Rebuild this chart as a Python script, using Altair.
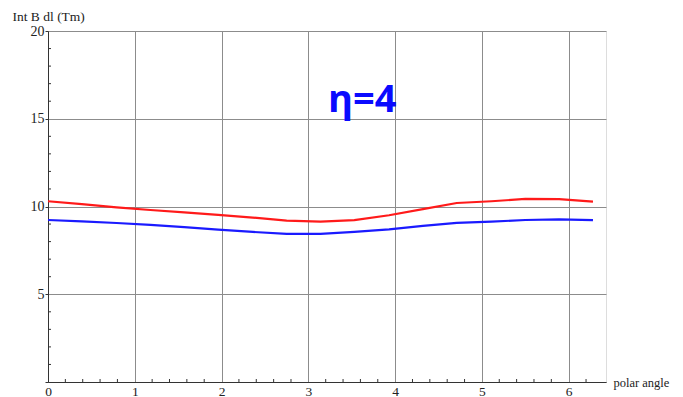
import altair as alt
import pandas as pd

angles = [0.0, 0.39, 0.79, 1.18, 1.57, 1.96, 2.36, 2.75, 3.14, 3.53, 3.93, 4.32, 4.71, 5.11, 5.50, 5.89, 6.28]
red_vals = [10.3, 10.13, 9.95, 9.8, 9.66, 9.52, 9.37, 9.2, 9.14, 9.22, 9.5, 9.85, 10.2, 10.3, 10.43, 10.42, 10.28]
blue_vals = [9.23, 9.15, 9.06, 8.95, 8.83, 8.68, 8.55, 8.44, 8.44, 8.55, 8.7, 8.9, 9.07, 9.14, 9.23, 9.27, 9.22]
series_names = ["red", "blue"]
series_colors = ["#ff1a1a", "#1a1aff"]

x_major = [0, 1, 2, 3, 4, 5, 6]
x_minor = [round(i * 0.2, 1) for i in range(1, 32) if i % 5 != 0]
y_major = [0, 5, 10, 15, 20]
y_minor = [v for v in range(1, 20) if v % 5 != 0]

annot_label = ["η=4"]
annot_x = [3.62]
annot_y = [16.0]

rows = []
for a, r, b in zip(angles, red_vals, blue_vals):
    rows.append({"angle": a, "value": r, "series": "red"})
    rows.append({"angle": a, "value": b, "series": "blue"})
df = pd.DataFrame(rows)

serif = "Liberation Serif"
ink = "#333"

x_scale = alt.Scale(domain=[0, 6.43], nice=False, zero=False)
y_scale = alt.Scale(domain=[0, 20], nice=False)

x_axis = alt.Axis(
    values=x_major,
    format="d",
    labelOverlap=False,
    labelFlush=False,
    grid=True,
    gridColor="#8c8c8c",
    gridWidth=1,
    tickSize=0,
    domainColor=ink,
    labelFont=serif,
    labelFontSize=13.5,
    labelColor="#222",
    labelPadding=2,
    title="polar angle",
    titleFont=serif,
    titleFontSize=12.5,
    titleFontWeight="normal",
    titleColor="#222",
    titleAnchor="start",
    titleAlign="left",
    titleBaseline="middle",
    titleX=565,
    titleY=0,
)

y_axis = alt.Axis(
    values=y_major,
    labelExpr="datum.value > 0 ? format(datum.value, 'd') : ''",
    labelOverlap=False,
    labelFlush=False,
    grid=True,
    gridColor="#8c8c8c",
    gridWidth=1,
    tickSize=3,
    tickColor=ink,
    domainColor=ink,
    labelFont=serif,
    labelFontSize=14,
    labelColor="#222",
    labelPadding=1,
    title="Int B dl (Tm)",
    titleFont=serif,
    titleFontSize=13.5,
    titleFontWeight="normal",
    titleColor="#222",
    titleAngle=0,
    titleAlign="left",
    titleBaseline="alphabetic",
    titleX=-36,
    titleY=-11,
)

lines = alt.Chart(df).mark_line(strokeWidth=2.2).encode(
    x=alt.X("angle:Q", scale=x_scale, axis=x_axis),
    y=alt.Y("value:Q", scale=y_scale, axis=y_axis),
    color=alt.Color("series:N", scale=alt.Scale(domain=series_names, range=series_colors), legend=None),
    detail="series:N",
)

xminor_df = pd.DataFrame({"t": x_minor, "base": [0] * len(x_minor)})
xminor = alt.Chart(xminor_df).mark_tick(
    orient="vertical", size=3, thickness=1, color=ink, yOffset=-1.5, opacity=1
).encode(x=alt.X("t:Q", scale=x_scale), y=alt.Y("base:Q", scale=y_scale))

yminor_df = pd.DataFrame({"t": y_minor, "base": [0] * len(y_minor)})
yminor = alt.Chart(yminor_df).mark_tick(
    orient="horizontal", size=3, thickness=1, color=ink, xOffset=1.5, opacity=1
).encode(y=alt.Y("t:Q", scale=y_scale), x=alt.X("base:Q", scale=x_scale))

annot_df = pd.DataFrame({"label": annot_label, "x": annot_x, "y": annot_y})
annot = alt.Chart(annot_df).mark_text(
    font="Open Sans", fontSize=38, fontWeight="bold", color="#0a0aff", align="center", baseline="middle"
).encode(x=alt.X("x:Q", scale=x_scale), y=alt.Y("y:Q", scale=y_scale), text="label:N")

chart = alt.layer(lines, xminor, yminor, annot).properties(
    width=558,
    height=351,
    autosize=alt.AutoSizeParams(type="none"),
    padding={"left": 40, "top": 23, "right": 69, "bottom": 16},
).configure_view(stroke=None).configure(background="white")

chart.save("out.html", embed_options={"renderer": "svg", "actions": False})
